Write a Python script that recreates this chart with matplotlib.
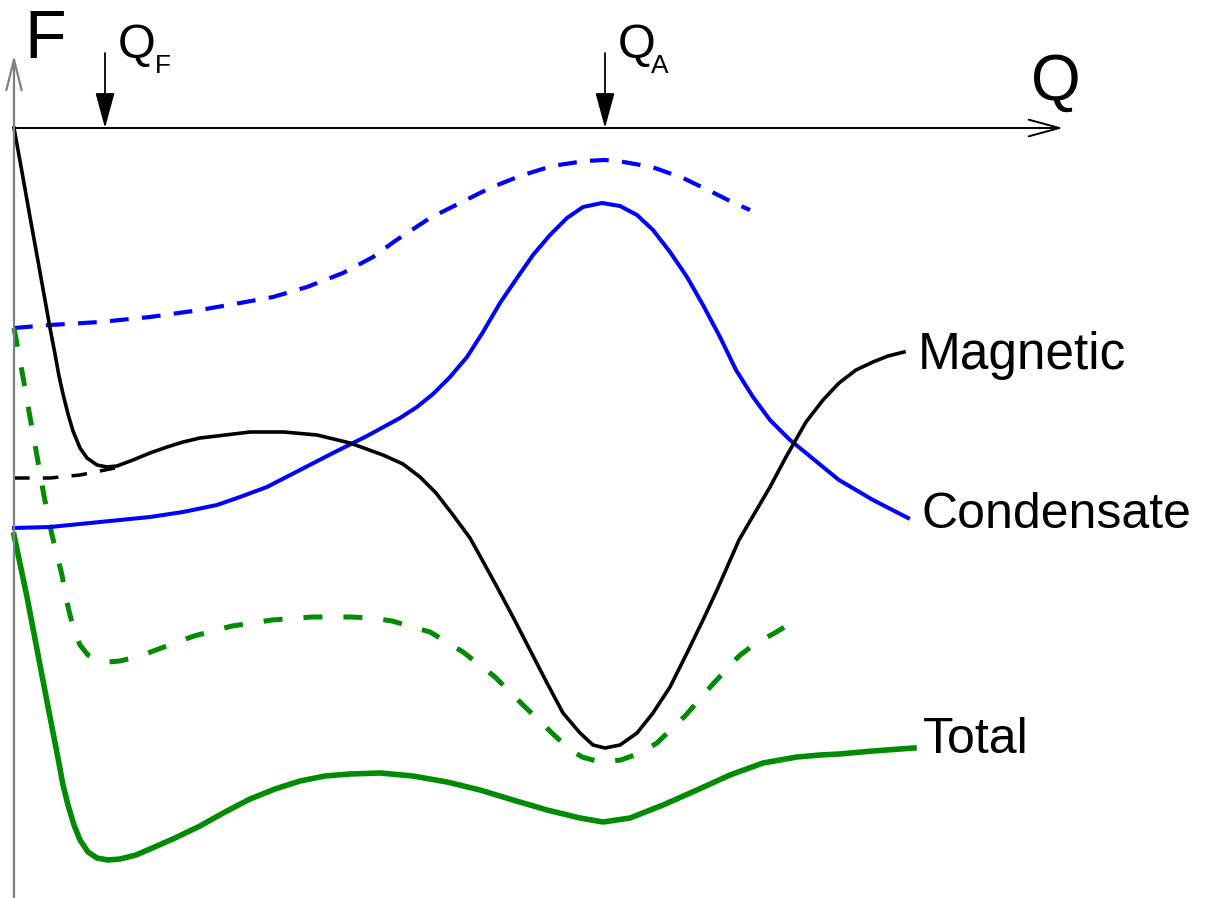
import matplotlib
matplotlib.use("Agg")
import matplotlib.pyplot as plt

plt.rcParams['font.family'] = ['Liberation Sans', 'DejaVu Sans']

# schematic free energy curves, Q = order parameter, F = free energy
# (origin at the axes corner)
mag_q = [0, 8, 16, 24, 31, 36, 41, 45, 49, 54, 59, 66, 73, 83, 93, 103, 119, 136, 153, 169,
         186, 203, 236, 253, 270, 303, 336, 369, 389, 406, 422, 439, 456, 466, 483, 499, 516,
         533, 549, 566, 579, 591, 606, 623, 639, 656, 673, 689, 703, 714, 725, 739, 756, 772,
         792, 809, 825, 842, 859, 874, 890]
mag_f = [0, -44, -89, -133, -172, -200, -226, -248, -266, -286, -303, -320, -330, -337, -339,
         -338, -332, -325, -319, -314, -310, -308, -304, -304, -304, -307, -315, -327, -336,
         -349, -365, -387, -410, -428, -459, -489, -522, -555, -585, -605, -617, -620, -617,
         -605, -585, -559, -525, -492, -462, -437, -412, -388, -359, -329, -294, -272, -255,
         -242, -234, -228, -224]

mag_dash_q = [0, 36, 66, 86, 101]
mag_dash_f = [-350, -350, -347, -343, -340]

cond_q = [0, 36, 86, 136, 169, 203, 226, 253, 286, 319, 353, 386, 403, 419, 436, 453, 469,
          486, 503, 519, 536, 553, 569, 588, 606, 623, 639, 656, 673, 689, 706, 722, 739,
          756, 776, 792, 809, 825, 859, 894]
cond_f = [-400, -399, -394, -389, -384, -377, -369, -359, -342, -325, -308, -290, -279, -266,
          -249, -229, -204, -175, -150, -127, -107, -90, -79, -75, -78, -87, -102, -124,
          -149, -177, -209, -242, -269, -292, -312, -325, -339, -352, -372, -390]

cond_dash_q = [0, 36, 86, 136, 186, 226, 259, 293, 329, 359, 381, 416, 446, 476, 506, 538,
               571, 591, 604, 638, 669, 698, 720, 736]
cond_dash_f = [-200, -197, -194, -189, -182, -175, -169, -159, -145, -129, -113, -90, -75,
               -60, -48, -38, -33, -32, -33, -39, -50, -64, -75, -82]

tot_q = [0, 13, 26, 36, 44, 49, 54, 60, 66, 74, 83, 94, 106, 122, 136, 161, 186, 211, 236,
         261, 286, 311, 336, 366, 399, 433, 466, 499, 533, 566, 589, 616, 649, 683, 716, 749,
         783, 806, 825, 859, 900]
tot_f = [-407, -469, -537, -589, -630, -657, -677, -697, -712, -724, -730, -732, -731, -727,
         -721, -710, -698, -684, -671, -661, -653, -648, -646, -645, -648, -654, -662, -672,
         -682, -690, -694, -690, -677, -662, -647, -635, -629, -627, -626, -623, -620]

tot_dash_q = [0, 9, 16, 23, 30, 38, 43, 48, 52, 56, 60, 66, 74, 83, 94, 106, 126, 142, 180,
              218, 258, 298, 337, 358, 378, 416, 449, 481, 509, 538, 554, 568, 586, 607, 626,
              643, 672, 698, 725, 742, 759, 784]
tot_dash_f = [-200, -249, -289, -328, -368, -407, -427, -447, -470, -487, -502, -517, -527,
              -532, -534, -533, -528, -522, -508, -498, -492, -489, -489, -490, -493, -504,
              -524, -549, -577, -605, -620, -629, -634, -632, -625, -615, -587, -557, -528,
              -515, -506, -491]

q_marks = [91, 591]
q_mark_names = ['F', 'A']

BLUE = '#0000ff'
GREEN = '#008c00'

fig = plt.figure(figsize=(12.09, 8.98), dpi=100)
ax = fig.add_axes([0, 0, 1, 1])
ax.set_xlim(-14, 1195)
ax.set_ylim(-770, 128)
ax.axis('off')

# axes with open arrow heads
ax.annotate('', xy=(1049, 0), xytext=(0, 0),
            arrowprops=dict(arrowstyle='->,head_length=2.2,head_width=0.6',
                            color='black', lw=1.4, shrinkA=0, shrinkB=0))
ax.annotate('', xy=(0, 73), xytext=(0, -775),
            arrowprops=dict(arrowstyle='->,head_length=2.2,head_width=0.55',
                            color='#808080', lw=1.6, shrinkA=0, shrinkB=0))

# curves
ax.plot(cond_dash_q, cond_dash_f, color=BLUE, lw=3.0, dashes=(4.5, 3.2),
        dash_capstyle='butt', dash_joinstyle='round')
ax.plot(tot_dash_q, tot_dash_f, color=GREEN, lw=3.6, dashes=(3.8, 4.2),
        dash_capstyle='butt', dash_joinstyle='round')
ax.plot(mag_dash_q, mag_dash_f, color='black', lw=2.5, dashes=(4.5, 3.8),
        dash_capstyle='butt')
ax.plot(cond_q, cond_f, color=BLUE, lw=2.9, solid_joinstyle='round')
ax.plot(mag_q, mag_f, color='black', lw=2.6, solid_joinstyle='round')
ax.plot(tot_q, tot_f, color=GREEN, lw=4.0, solid_joinstyle='round')

# Q_F and Q_A markers
for q, name in zip(q_marks, q_mark_names):
    ax.annotate('', xy=(q, 0), xytext=(q, 75),
                arrowprops=dict(arrowstyle='-|>,head_length=2.2,head_width=0.6',
                                color='black', lw=1.3, shrinkA=0, shrinkB=0))
    ax.text(q + 13, 70, 'Q', fontsize=35, va='baseline', ha='left')
    ax.text(q + 50 - (4 if name == 'A' else 0), 55, name, fontsize=19,
            va='baseline', ha='left')

ax.text(10, 70, 'F', fontsize=49, va='baseline', ha='left')
ax.text(1017, 28, 'Q', fontsize=46, va='baseline', ha='left')

ax.text(904, -241, 'Magnetic', fontsize=37, va='baseline', ha='left')
ax.text(907, -400, 'Condensate', fontsize=36, va='baseline', ha='left')
ax.text(909, -625, 'Total', fontsize=36, va='baseline', ha='left')

fig.savefig('out.png', dpi=100)
